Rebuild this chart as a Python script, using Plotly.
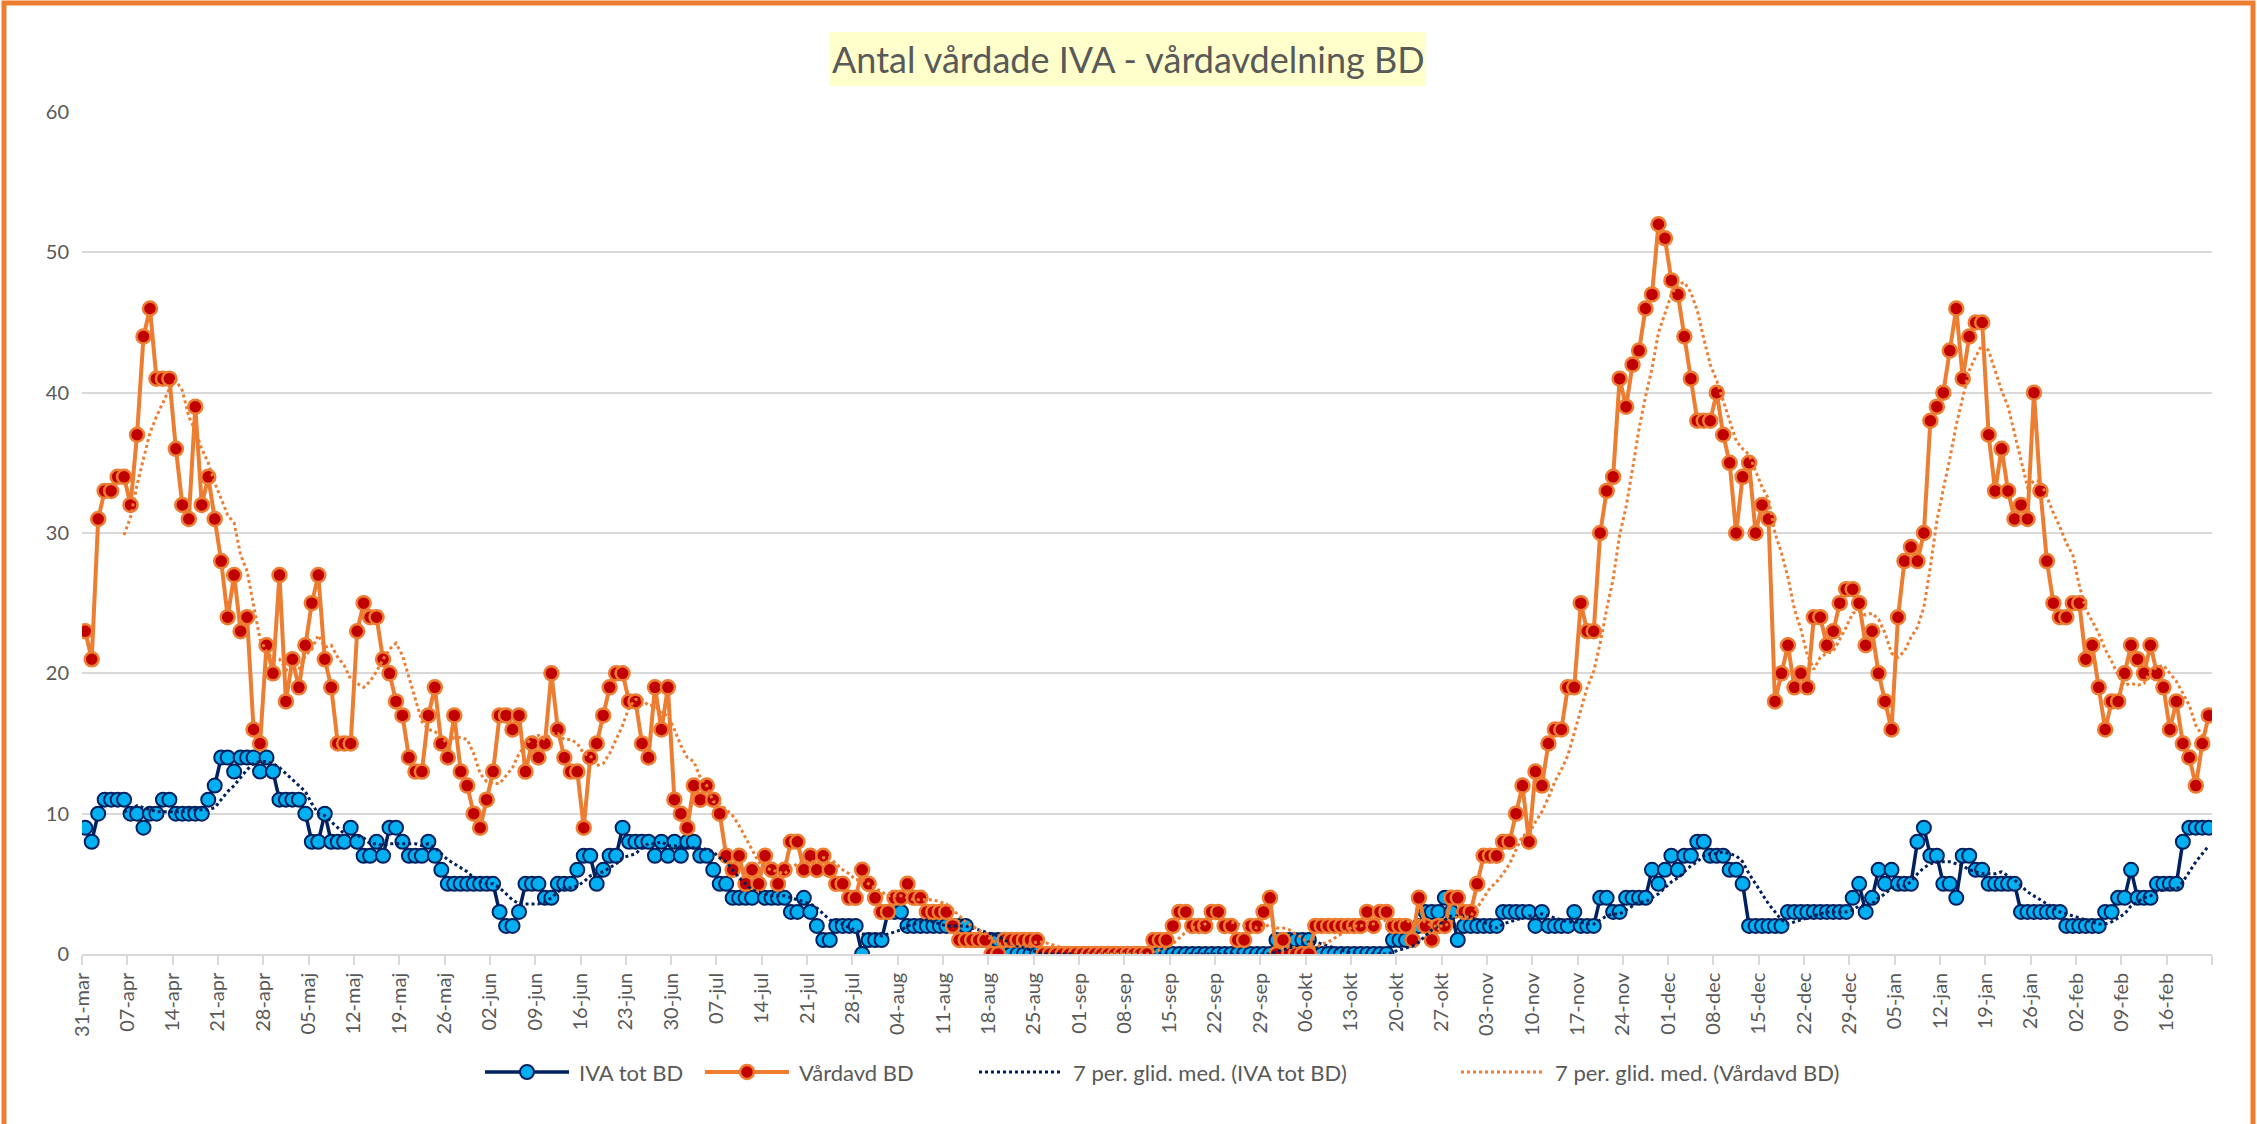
import pandas as pd
import plotly.graph_objects as go

start_date = "2020-03-31"

iva_tot_bd = [
    9, 8, 10, 11, 11, 11, 11, 10, 10, 9, 10, 10, 11, 11, 10, 10, 10, 10, 10, 11, 12, 14, 14, 13, 14, 14, 14, 13, 14, 13,
    11, 11, 11, 11, 10, 8, 8, 10, 8, 8, 8, 9, 8, 7, 7, 8, 7, 9,
    9, 8, 7, 7, 7, 8, 7, 6, 5, 5, 5, 5, 5, 5, 5, 5, 3, 2, 2, 3, 5, 5, 5, 4, 4, 5, 5, 5, 6, 7, 7, 5, 6, 7, 7, 9,
    8, 8, 8, 8, 7, 8, 7, 8, 7, 8, 8, 7,
    7, 6, 5, 5, 4, 4, 4, 4, 5, 4, 4, 4, 4, 3, 3, 4, 3, 2, 1, 1, 2, 2, 2, 2, 0, 1, 1, 1, 3, 3, 3, 2, 2, 2, 2, 2,
    2, 2, 2, 2, 2, 1, 1, 1, 1, 1, 0,
    0, 0, 0, 0, 0, 0, 0, 0, 0, 0, 0, 0, 0, 0, 0, 0, 0, 0, 0, 0, 0, 0, 0, 0, 0, 0, 0, 0, 0, 0, 0, 0, 0, 0, 0, 0,
    0, 0, 0, 0, 0,
    1, 1, 1, 1, 1, 1,
    0, 0, 0, 0, 0, 0, 0, 0, 0, 0, 0, 0,
    1, 1, 1, 1, 2, 3, 3, 3, 4, 3, 1, 2, 2, 2, 2, 2, 2, 3, 3, 3, 3, 3, 2, 3, 2, 2, 2, 2, 3, 2, 2, 2, 4,
    4, 3, 3, 4, 4, 4, 4, 6, 5, 6, 7, 6, 7, 7, 8, 8, 7, 7, 7, 6, 6, 5, 2, 2, 2, 2, 2, 2, 3, 3, 3, 3, 3, 3, 3, 3,
    3, 3, 4, 5, 3, 4, 6, 5, 6, 5, 5, 5, 8, 9, 7,
    7, 5, 5, 4, 7, 7, 6, 6, 5, 5, 5, 5, 5, 3, 3, 3, 3, 3, 3, 3, 2, 2, 2, 2, 2, 2, 3, 3, 4, 4, 6, 4, 4, 4, 5, 5,
    5, 5, 8, 9, 9, 9, 9,
]

vardavd_bd = [
    23, 21, 31, 33, 33, 34, 34, 32, 37, 44, 46, 41, 41, 41, 36, 32, 31, 39, 32, 34, 31, 28, 24, 27, 23, 24, 16, 15,
    22, 20, 27, 18, 21, 19, 22, 25, 27, 21, 19, 15, 15, 15, 23, 25, 24, 24, 21, 20,
    18, 17, 14, 13, 13, 17, 19, 15, 14, 17, 13, 12, 10, 9, 11, 13, 17, 17, 16, 17, 13, 15, 14, 15, 20, 16, 14, 13,
    13, 9, 14, 15, 17, 19, 20, 20, 18, 18, 15, 14, 19, 16, 19, 11, 10, 9, 12, 11,
    12, 11, 10, 7, 6, 7, 5, 6, 5, 7, 6, 5, 6, 8, 8, 6, 7, 6, 7, 6, 5, 5, 4, 4, 6, 5, 4, 3, 3, 4, 4, 5, 4, 4, 3, 3,
    3, 3, 2, 1, 1, 1, 1, 1, 0, 0, 1,
    1, 1, 1, 1, 1,
    0, 0, 0, 0, 0, 0, 0, 0, 0, 0, 0, 0, 0, 0, 0, 0, 0,
    1, 1, 1,
    2, 3, 3, 2, 2, 2, 3, 3, 2, 2, 1, 1, 2, 2, 3, 4, 0, 1, 0, 0, 0, 0, 2,
    2, 2, 2, 2, 2, 2, 2, 3, 2, 3, 3, 2, 2, 2, 1, 4, 2, 1, 2, 2, 4, 4, 3, 3, 5, 7, 7, 7, 8, 8, 10, 12, 8, 13, 12, 15,
    16, 16, 19, 19, 25, 23, 23, 30, 33, 34, 41, 39, 42, 43, 46, 47, 52, 51, 48, 47, 44, 41, 38, 38, 38, 40, 37, 35,
    30, 34, 35, 30, 32, 31, 18, 20, 22, 19, 20, 19,
    24, 24, 22, 23, 25, 26, 26, 25, 22, 23, 20, 18, 16, 24, 28, 29, 28, 30, 38, 39, 40, 43, 46, 41, 44, 45, 45, 37,
    33, 36, 33, 31, 32,
    31, 40, 33, 28, 25, 24, 24, 25, 25, 21, 22, 19, 16, 18, 18, 20, 22, 21, 20, 22, 20, 19, 16, 18, 15, 14, 12, 15, 17,
]

tick_labels = [
    "31-mar", "07-apr", "14-apr", "21-apr", "28-apr", "05-maj", "12-maj", "19-maj", "26-maj", "02-jun", "09-jun",
    "16-jun", "23-jun", "30-jun", "07-jul", "14-jul", "21-jul", "28-jul", "04-aug", "11-aug", "18-aug", "25-aug",
    "01-sep", "08-sep", "15-sep", "22-sep", "29-sep", "06-okt", "13-okt", "20-okt", "27-okt", "03-nov", "10-nov",
    "17-nov", "24-nov", "01-dec", "08-dec", "15-dec", "22-dec", "29-dec", "05-jan", "12-jan", "19-jan", "26-jan",
    "02-feb", "09-feb", "16-feb",
]

series_names = ["IVA tot BD", "Vårdavd BD", "7 per. glid. med. (IVA tot BD)", "7 per. glid. med. (Vårdavd BD)"]
title_text = "Antal vårdade IVA - vårdavdelning BD"

n = len(vardavd_bd)
dates = pd.date_range(start_date, periods=n, freq="D")
iva_ma = pd.Series(iva_tot_bd).rolling(7).mean()
vard_ma = pd.Series(vardavd_bd).rolling(7).mean()

tick_vals = list(pd.date_range(start_date, periods=len(tick_labels), freq="7D")) + [dates[-1] + pd.Timedelta(days=1)]
tick_text = tick_labels + [""]

FONT = "Lato"
NAVY = "#002060"
LIGHTBLUE = "#00B0F0"
ORANGE = "#ED7D31"
DARKRED = "#C00000"
GRAY = "#595959"
GRID = "#D9D9D9"

line_styles = [
    dict(color=NAVY, width=3.5),
    dict(color=ORANGE, width=4),
    dict(color=NAVY, width=3, dash="dot"),
    dict(color=ORANGE, width=3, dash="dot"),
]
marker_styles = [
    dict(symbol="circle", size=14, color=LIGHTBLUE, line=dict(color=NAVY, width=2)),
    dict(symbol="circle", size=14, color=DARKRED, line=dict(color=ORANGE, width=2.5)),
    None,
    None,
]

period = dict(xperiod=86400000, xperiodalignment="middle")
series_values = [iva_tot_bd, vardavd_bd, iva_ma, vard_ma]

fig = go.Figure()
for name, vals, ls, ms in zip(series_names, series_values, line_styles, marker_styles):
    kw = dict(x=dates, y=vals, name=name, line=ls, showlegend=False, **period)
    if ms is not None:
        fig.add_trace(go.Scatter(mode="lines+markers", marker=ms, **kw))
    else:
        fig.add_trace(go.Scatter(mode="lines", **kw))

W, H = 2257, 1124
L, R, T, B = 82, 45, 112, 170
pw, ph = W - L - R, H - T - B


def px(xpix):
    return (xpix - L) / pw


def py(ypix):
    return (H - B - ypix) / ph


shapes = [
    dict(type="rect", xref="paper", yref="paper", x0=px(830), x1=px(1426), y0=py(32), y1=py(86),
         fillcolor="#FFFFCC", line=dict(width=0), layer="below"),
    dict(type="rect", xref="paper", yref="paper", x0=px(4), x1=px(W - 4), y0=py(3), y1=py(H + 20),
         fillcolor="rgba(0,0,0,0)", line=dict(color=ORANGE, width=5), layer="above"),
]
annotations = [
    dict(text=title_text, xref="paper", yref="paper", x=px(1128), y=py(59), xanchor="center",
         yanchor="middle", showarrow=False, font=dict(family=FONT, size=36, color=GRAY)),
]

# legend (drawn manually to match the long Excel legend keys)
leg_y = 1072
leg_starts = [485, 705, 979, 1461]
key_len = 84
for i, (name, x0) in enumerate(zip(series_names, leg_starts)):
    shapes.append(dict(type="line", xref="paper", yref="paper", x0=px(x0), x1=px(x0 + key_len),
                       y0=py(leg_y), y1=py(leg_y), line=line_styles[i]))
    ms = marker_styles[i]
    if ms is not None:
        r = ms["size"] / 2
        cx = x0 + key_len / 2
        shapes.append(dict(type="circle", xref="paper", yref="paper",
                           x0=px(cx - r), x1=px(cx + r), y0=py(leg_y + r), y1=py(leg_y - r),
                           fillcolor=ms["color"], line=dict(color=ms["line"]["color"], width=ms["line"]["width"])))
    annotations.append(dict(text=name, xref="paper", yref="paper", x=px(x0 + key_len + 8), y=py(leg_y),
                            xanchor="left", yanchor="middle", showarrow=False,
                            font=dict(family=FONT, size=22, color=GRAY)))

fig.update_layout(
    width=W, height=H,
    margin=dict(l=L, r=R, t=T, b=B),
    paper_bgcolor="white", plot_bgcolor="white",
    font=dict(family=FONT, color=GRAY, size=20),
    showlegend=False,
    xaxis=dict(
        type="date",
        range=[dates[0], dates[-1] + pd.Timedelta(days=1)],
        tickmode="array", tickvals=tick_vals, ticktext=tick_text,
        tickangle=-90, tickfont=dict(size=20, color=GRAY, family=FONT),
        ticks="outside", ticklen=9, tickcolor=GRID, tickwidth=1.5,
        showgrid=False, showline=True, linecolor=GRID, linewidth=1.5,
        zeroline=False,
    ),
    yaxis=dict(
        range=[0, 60], tickvals=[0, 10, 20, 30, 40, 50, 60],
        tickfont=dict(size=20, color=GRAY, family=FONT),
        showgrid=True, gridcolor=GRID, gridwidth=1.5,
        showline=False, zeroline=False, ticks="", ticklabelstandoff=12,
    ),
    shapes=shapes,
    annotations=annotations,
)

fig.write_html(
    "out.html",
    config={"displayModeBar": False},
    post_script="document.body.style.margin='0';document.body.style.overflow='hidden';",
)
